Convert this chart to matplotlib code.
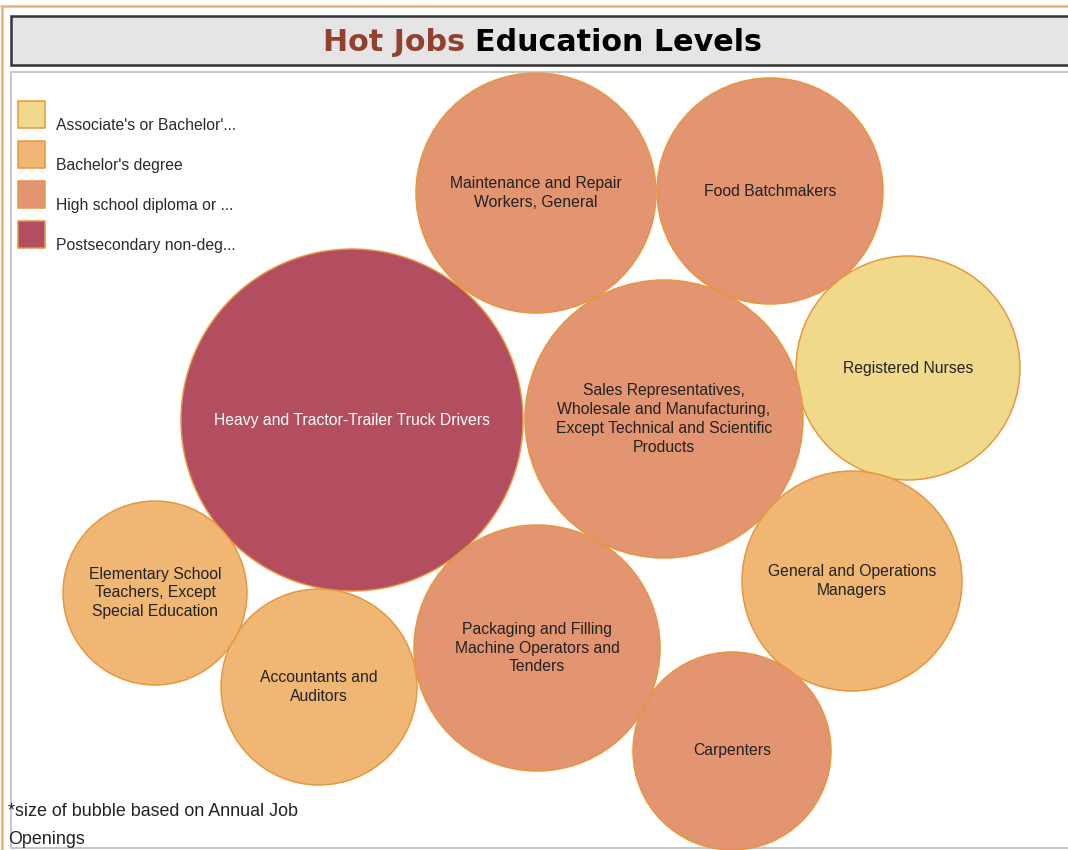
import numpy as np
import matplotlib.pyplot as plt
from matplotlib.patches import Circle, Rectangle

# education level categories and colours
levels = ["Associate's or Bachelor'...", "Bachelor's degree",
          "High school diploma or ...", "Postsecondary non-deg..."]
level_colors = ["#f0d98b", "#efb674", "#e39470", "#b34e60"]

# jobs, their education level and annual job openings (relative)
jobs = ["Heavy and Tractor-Trailer Truck Drivers",
        "Maintenance and Repair\nWorkers, General",
        "Food Batchmakers",
        "Registered Nurses",
        "Sales Representatives,\nWholesale and Manufacturing,\nExcept Technical and Scientific\nProducts",
        "General and Operations\nManagers",
        "Carpenters",
        "Packaging and Filling\nMachine Operators and\nTenders",
        "Accountants and\nAuditors",
        "Elementary School\nTeachers, Except\nSpecial Education"]
job_level = [3, 2, 2, 0, 2, 1, 2, 2, 1, 1]
openings = [2924, 1440, 1277, 1254, 1932, 1210, 980, 1513, 960, 846]

# packed layout (bubble centres, pixel space)
layout = [(352, 420), (536, 193), (770, 191), (908, 368), (664, 419),
          (852, 581), (732, 751), (537, 648), (319, 687), (155, 593)]

W, H = 1068, 850
fig = plt.figure(figsize=(W / 100, H / 100), dpi=100)
ax = fig.add_axes([0, 0, 1, 1])
ax.set_xlim(0, W)
ax.set_ylim(H, 0)
ax.axis('off')

def px(p):
    return p * 72 / 100

# outer frame lines
ax.plot([0, W], [6, 6], color="#f0b070", lw=px(2.5), solid_capstyle='butt')
ax.plot([1.5, 1.5], [6, H], color="#f0b070", lw=px(2.5), solid_capstyle='butt')

# title box
ax.add_patch(Rectangle((11, 16), W + 20, 49, facecolor="#e5e5e5",
                       edgecolor="#333333", lw=px(2.5)))
# plot area box
ax.add_patch(Rectangle((11, 72), W + 20, 776, facecolor="white",
                       edgecolor="#c8c8c8", lw=px(2)))

# title in two colours
tfont = dict(fontsize=21.7, fontweight='bold', family='DejaVu Sans', va='center')
t1 = ax.text(0, 42, "Hot Jobs ", color="#93412e", **tfont)
t2 = ax.text(0, 42, "Education Levels", color="black", **tfont)
fig.canvas.draw()
r = fig.canvas.get_renderer()
w1 = t1.get_window_extent(r).width
w2 = t2.get_window_extent(r).width
x0 = 542.5 - (w1 + w2) / 2
t1.set_x(x0)
t2.set_x(x0 + w1)

# bubbles
scale = 171 / np.sqrt(openings[0])
for name, lev, val, (cx, cy) in zip(jobs, job_level, openings, layout):
    rad = scale * np.sqrt(val)
    ax.add_patch(Circle((cx, cy), rad, facecolor=level_colors[lev],
                        edgecolor="#e8963c", lw=px(1.5), zorder=3))
    tc = "white" if lev == 3 else "#222222"
    ax.text(cx, cy, name, ha='center', va='center', color=tc,
            fontsize=11.3, family='Liberation Sans', linespacing=1.32, zorder=4)

# legend
for i, (lab, col) in enumerate(zip(levels, level_colors)):
    y = 101 + 40 * i
    ax.add_patch(Rectangle((18, y), 27, 27, facecolor=col,
                           edgecolor="#e8963c", lw=px(1.5), zorder=3))
    ax.text(56, y + 24, lab, ha='left', va='center', color="#2a2a2a",
            fontsize=11.3, family='Liberation Sans')

# footnote
ax.text(8, 811, "*size of bubble based on Annual Job", ha='left', va='center',
        fontsize=12.9, family='Liberation Sans', color="#222222", zorder=5)
ax.text(8, 839, "Openings", ha='left', va='center',
        fontsize=12.9, family='Liberation Sans', color="#222222", zorder=5)

fig.savefig("out.png", dpi=100)
